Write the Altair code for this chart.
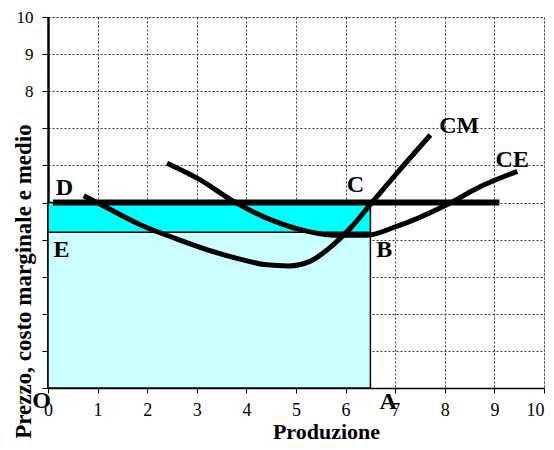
import altair as alt
import pandas as pd

# ---- data ----
cm_x = [0.72, 1.2, 1.86, 2.53, 3.2, 3.85, 4.41, 4.85, 5.29, 5.76, 6.16, 6.5, 7.04, 7.71]
cm_y = [5.18, 4.85, 4.4, 4.05, 3.73, 3.48, 3.32, 3.29, 3.42, 3.87, 4.4, 4.95, 5.8, 6.82]
ce_x = [2.4, 3.07, 3.74, 4.41, 5.09, 5.76, 6.43, 7.0, 8.04, 8.72, 9.46]
ce_y = [6.06, 5.61, 5.03, 4.58, 4.27, 4.12, 4.12, 4.34, 4.94, 5.43, 5.84]
price = 5.0
price_x = [0.1, 9.1]
avg_cost = 4.2
q_star = 6.5
zones = ["costo", "profitto"]
label_text = ["D", "E", "C", "B", "CM", "CE", "O", "A"]
label_x = [0.33, 0.27, 6.2, 6.78, 8.29, 9.36, -0.13, 6.86]
label_y = [5.39, 3.73, 5.47, 3.73, 7.05, 6.14, -0.35, -0.38]
grid_vals = [i / 2 for i in range(0, 21)]

SERIF = "Liberation Serif"

curves = pd.DataFrame(
    {"x": cm_x + ce_x, "y": cm_y + ce_y,
     "serie": ["CM"] * len(cm_x) + ["CE"] * len(ce_x)}
)
price_df = pd.DataFrame({"x": [price_x[0]], "x2": [price_x[1]], "y": [price]})
rect_df = pd.DataFrame(
    {"x": [0, 0], "x2": [q_star, q_star], "y": [0, avg_cost], "y2": [avg_cost, price], "zona": zones}
)
labels_df = pd.DataFrame({"t": label_text, "x": label_x, "y": label_y})

tick_cond = {"condition": {"test": "datum.value % 1 !== 0", "value": 0}, "value": 1}
last_align = {"condition": {"test": "datum.value >= 10", "value": "right"}, "value": "center"}

xaxis = alt.Axis(
    values=grid_vals, format="d", grid=True, gridColor="#222222", gridDash=[2, 2], gridWidth=1,
    gridOpacity=0.9, tickSize=5, tickColor="black", tickOpacity=tick_cond,
    labelExpr="datum.value % 1 === 0 ? datum.label : ''", labelFlush=False,
    labelAlign=last_align,
    labelOverlap=False, labelFont=SERIF, labelFontSize=18, labelPadding=8,
    labelColor="black", domainColor="black", domainWidth=1.5,
    title="Produzione", titleFont=SERIF, titleFontSize=22, titleFontWeight="bold",
    titleColor="black", titleX=278, titleY=50, titleBaseline="alphabetic", titleAlign="center",
)
yaxis = alt.Axis(
    values=grid_vals, format="d", grid=True, gridColor="#222222", gridDash=[2, 2], gridWidth=1,
    gridOpacity=0.9, tickSize=6, tickColor="black", tickOpacity=tick_cond,
    labelExpr="datum.value >= 8 && datum.value % 1 === 0 ? datum.label : ''",
    labelFlush=False, labelOverlap=False, labelFont=SERIF, labelFontSize=17,
    labelPadding=9, labelColor="black", domainColor="black", domainWidth=2.5,
    title="Prezzo, costo marginale e medio", titleFont=SERIF, titleFontSize=23,
    titleFontWeight="bold", titleColor="black", titleX=-13, titleY=264,
    titleAlign="center", titleBaseline="bottom", titleAngle=270,
)
xs = alt.Scale(domain=[0, 10], nice=False)
ys = alt.Scale(domain=[0, 10], nice=False)

rects = alt.Chart(rect_df).mark_rect(stroke="black", strokeWidth=1.5).encode(
    x=alt.X("x:Q", scale=xs, axis=xaxis),
    x2="x2:Q",
    y=alt.Y("y:Q", scale=ys, axis=yaxis),
    y2="y2:Q",
    color=alt.Color("zona:N", scale=alt.Scale(domain=zones, range=["#CCFFFF", "#00FFFF"]), legend=None),
)

price_line = alt.Chart(price_df).mark_rule(color="black", strokeWidth=6).encode(
    x=alt.X("x:Q", scale=xs, axis=xaxis), x2="x2:Q",
    y=alt.Y("y:Q", scale=ys, axis=yaxis),
)

lines = alt.Chart(curves).mark_line(color="black", strokeWidth=5, interpolate="monotone").encode(
    x=alt.X("x:Q", scale=xs, axis=xaxis),
    y=alt.Y("y:Q", scale=ys, axis=yaxis),
    detail="serie:N",
    order="x:Q",
)

texts = alt.Chart(labels_df).mark_text(
    font=SERIF, fontSize=24, fontWeight="bold", color="black",
    align="center", baseline="middle", clip=False,
).encode(
    x=alt.X("x:Q", scale=xs, axis=xaxis),
    y=alt.Y("y:Q", scale=ys, axis=yaxis),
    text="t:N",
)

chart = alt.layer(rects, price_line, lines, texts).properties(
    width=496, height=371,
    autosize=alt.AutoSizeParams(type="none"),
    padding={"left": 40, "top": 9, "right": 1, "bottom": 54},
).configure_view(stroke="#808080", strokeWidth=2).configure_axis(
    labelFont=SERIF, titleFont=SERIF
).configure(background="white")

chart.save("out.html", embed_options={"renderer": "svg", "actions": False})
